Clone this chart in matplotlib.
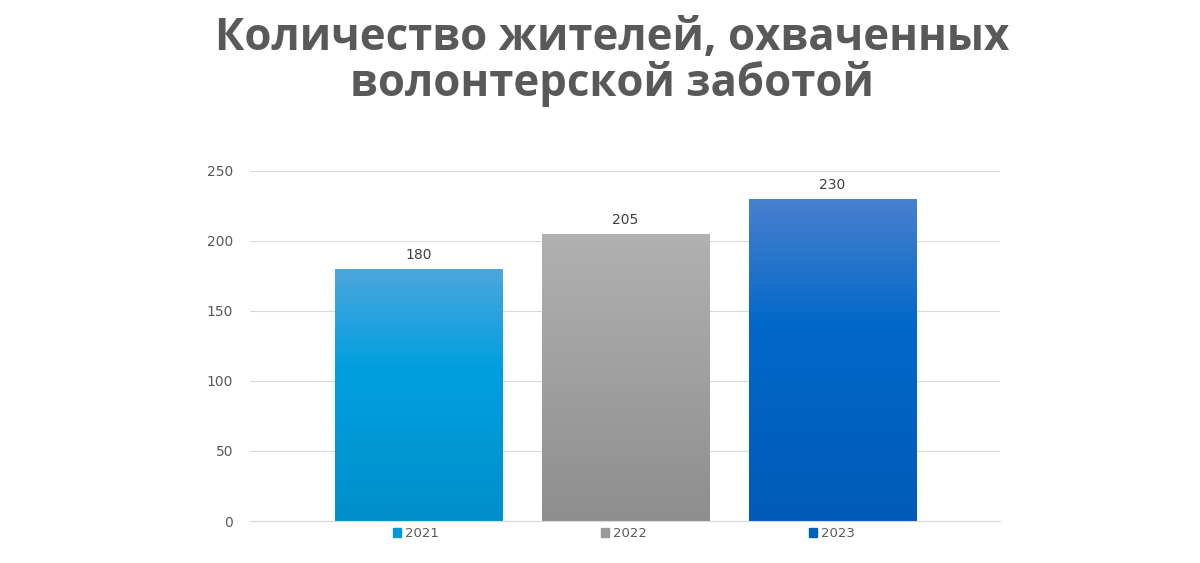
import matplotlib.pyplot as plt
import numpy as np
from matplotlib.colors import LinearSegmentedColormap
from matplotlib.patches import Patch

title = 'Количество жителей, охваченных\nволонтерской заботой'
years = ['2021', '2022', '2023']
values = [180, 205, 230]

# gradient colours per bar: top, middle, bottom
grads = [
    ['#4da6dc', '#009fe0', '#008fcc'],
    ['#b1b1b1', '#a3a3a3', '#8e8e8e'],
    ['#4a80d0', '#0068c8', '#005bb8'],
]
legend_colors = ['#0098d8', '#9a9a9a', '#0062c0']

fig = plt.figure(figsize=(12, 5.63), dpi=100)
ax = fig.add_axes([0.2083, 0.0746, 0.625, 0.6217])

x = np.arange(len(years))
bars = ax.bar(x, values, width=0.807, color='none', zorder=3)

grad = np.linspace(0, 1, 256).reshape(-1, 1)
for b, g in zip(bars, grads):
    cmap = LinearSegmentedColormap.from_list('g', [(0, g[2]), (0.6, g[1]), (1, g[0])])
    im = ax.imshow(grad, cmap=cmap, origin='lower', aspect='auto', zorder=2,
                   extent=[b.get_x(), b.get_x() + b.get_width(), 0, b.get_height()])
    im.set_clip_path(b)

for b, v in zip(bars, values):
    ax.annotate(str(v), (b.get_x() + b.get_width() / 2, v), xytext=(0, 5),
                textcoords='offset points', ha='center', va='bottom',
                fontsize=10, color='#404040')

ax.set_xlim(-0.814, 2.809)
ax.set_ylim(0, 250)
ax.set_yticks(range(0, 251, 50))
ax.tick_params(axis='y', length=0, pad=12, labelsize=10, labelcolor='#595959')
ax.set_xticks([])
ax.grid(axis='y', color='#d9d9d9', lw=0.8, zorder=0)
ax.set_axisbelow(True)
for s in ['left', 'right', 'top']:
    ax.spines[s].set_visible(False)
ax.spines['bottom'].set_color('#d9d9d9')

handles = [Patch(color=c, label=y) for c, y in zip(legend_colors, years)]
fig.legend(handles=handles, loc='center', bbox_to_anchor=(0.5198, 0.052), ncol=3,
           frameon=False, fontsize=9.5, handlelength=0.6, handleheight=0.6,
           handletextpad=0.3, columnspacing=12.3, labelcolor='#595959')

fig.suptitle(title, x=0.51, y=0.972, fontsize=31.5, fontweight='bold', color='#595959',
             linespacing=1.0, family=['Open Sans', 'DejaVu Sans'])

fig.savefig('out.png', dpi=100)
